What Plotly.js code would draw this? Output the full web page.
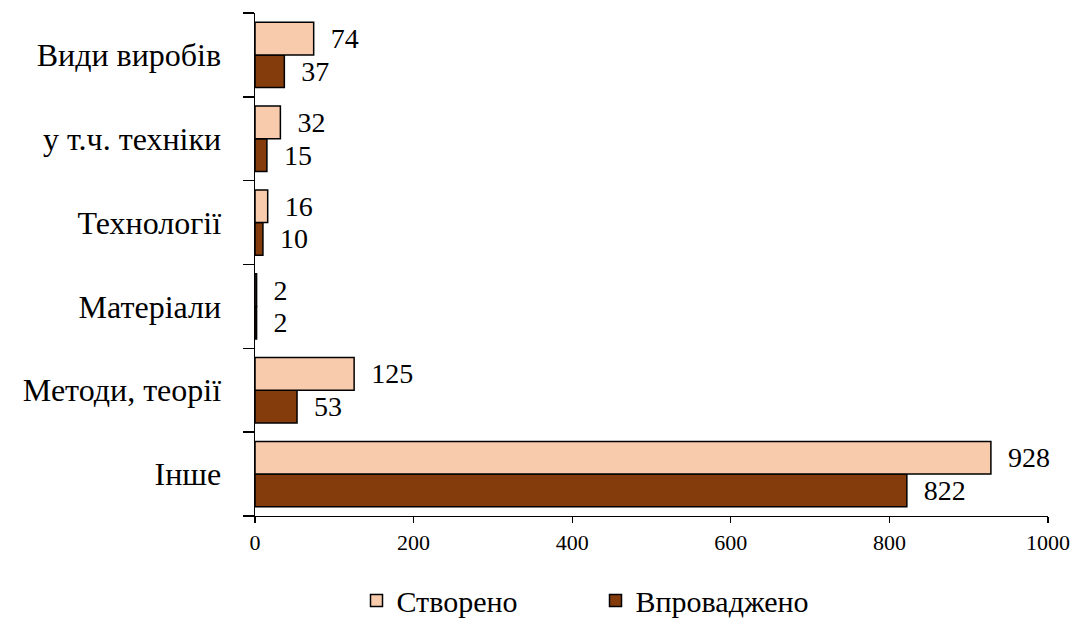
<!DOCTYPE html>
<html>
<head>
<meta charset="utf-8">
<script src="https://cdn.plot.ly/plotly-3.0.1.min.js"></script>
<style>
html,body{margin:0;padding:0;background:#fff;}
#chart{width:1075px;height:620px;}
</style>
</head>
<body>
<div id="chart"></div>
<script>
// Categories listed bottom to top
const categories = ["Інше", "Методи, теорії", "Матеріали", "Технології", "у т.ч. техніки", "Види виробів"];
const created = [928, 125, 2, 16, 32, 74];      // Створено
const implemented = [822, 53, 2, 10, 15, 37];   // Впроваджено
const seriesNames = ["Створено", "Впроваджено"];
const xTicks = [0, 200, 400, 600, 800, 1000];

const serifFamily = "Liberation Serif";
const pad = "\u00a0\u00a0";

const traces = [
  {
    type: "bar", orientation: "h", name: seriesNames[1],
    y: categories, x: implemented,
    marker: {color: "#843C0C", line: {color: "#000", width: 1.5}},
    text: implemented.map(v => pad + v), textposition: "outside",
    textfont: {family: serifFamily, size: 28, color: "#000"},
    cliponaxis: false, legendrank: 2, hoverinfo: "none"
  },
  {
    type: "bar", orientation: "h", name: seriesNames[0],
    y: categories, x: created,
    marker: {color: "#F8CBAD", line: {color: "#000", width: 1.5}},
    text: created.map(v => pad + v), textposition: "outside",
    textfont: {family: serifFamily, size: 28, color: "#000"},
    cliponaxis: false, legendrank: 1, hoverinfo: "none"
  }
];

const layout = {
  width: 1075, height: 620,
  margin: {l: 255, r: 27, t: 13, b: 104, autoexpand: false},
  paper_bgcolor: "#fff", plot_bgcolor: "#fff",
  font: {family: serifFamily, color: "#000"},
  barmode: "group", bargap: 0.22, bargroupgap: 0,
  showlegend: true,
  legend: {
    orientation: "h", x: 0.128, xanchor: "left", y: -0.168, yanchor: "middle",
    font: {family: serifFamily, size: 30, color: "#000"},
    entrywidth: 194, entrywidthmode: "pixels"
  },
  xaxis: {
    range: [0, 1000], tickvals: xTicks, ticktext: xTicks.map(String),
    showline: true, linecolor: "#000", linewidth: 1.3,
    ticks: "outside", ticklen: 6, tickcolor: "#000", tickwidth: 1.3,
    showgrid: false, zeroline: false, automargin: false,
    tickfont: {family: serifFamily, size: 22, color: "#000"}
  },
  yaxis: {
    type: "category", categoryorder: "array", categoryarray: categories,
    showline: true, linecolor: "#000", linewidth: 1.5,
    ticks: "outside", ticklen: 11, tickcolor: "#000", tickwidth: 1.5,
    tickson: "boundaries", showgrid: false, zeroline: false, automargin: false,
    ticklabelstandoff: 26,
    tickfont: {family: serifFamily, size: 32, color: "#000"}
  }
};

Plotly.newPlot("chart", traces, layout, {staticPlot: true, displayModeBar: false});
</script>
</body>
</html>
